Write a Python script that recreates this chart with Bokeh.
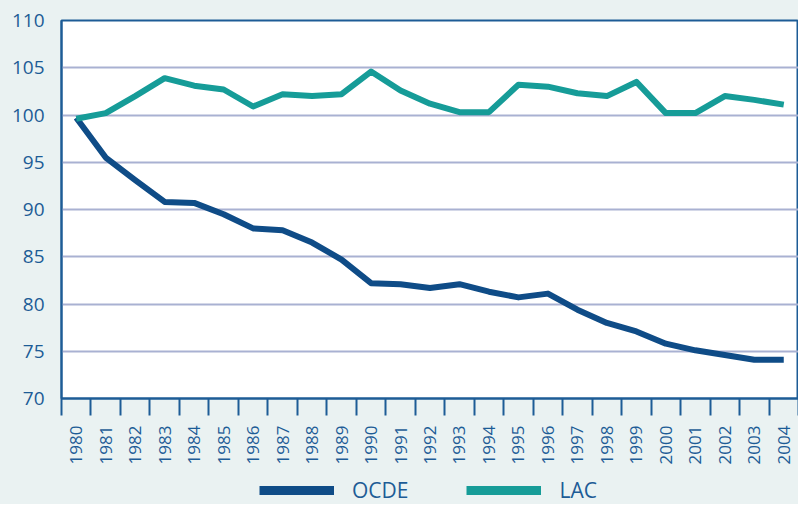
from bokeh.plotting import figure
from bokeh.layouts import column
from bokeh.models import FixedTicker, Legend, LegendItem, Range1d
from bokeh.embed import file_html
from bokeh.resources import INLINE

years = [str(y) for y in range(1980, 2005)]
ocde = [99.7, 95.5, 93.1, 90.8, 90.7, 89.5, 88.0, 87.8, 86.5, 84.7, 82.2, 82.1, 81.7,
        82.1, 81.3, 80.7, 81.1, 79.4, 78.0, 77.1, 75.8, 75.1, 74.6, 74.1, 74.1]
lac = [99.6, 100.2, 102.0, 103.9, 103.1, 102.7, 100.9, 102.2, 102.0, 102.2, 104.6, 102.6,
       101.2, 100.3, 100.3, 103.2, 103.0, 102.3, 102.0, 103.5, 100.2, 100.2, 102.0, 101.6, 101.1]
y_ticks = [70, 75, 80, 85, 90, 95, 100, 105, 110]
series_names = ["OCDE", "LAC"]

C_OCDE = "#0f4c87"
C_LAC = "#169c98"
AXIS = "#1d5c96"
BG = "#eaf2f2"

xs = list(range(len(years)))

p = figure(width=798, height=476, output_backend="svg", toolbar_location=None,
           x_range=Range1d(-0.5, len(years) - 0.5), y_range=Range1d(70, 110),
           background_fill_color="white", border_fill_color=BG,
           min_border_left=61, min_border_top=20, min_border_right=0, min_border_bottom=78)
p.outline_line_color = AXIS
p.outline_line_width = 2

# gridlines
p.xgrid.visible = False
p.ygrid.ticker = FixedTicker(ticks=y_ticks)
p.ygrid.grid_line_color = "#a9b1d2"
p.ygrid.grid_line_width = 2

# y axis
p.yaxis.ticker = FixedTicker(ticks=y_ticks)
p.yaxis.axis_line_color = AXIS
p.yaxis.axis_line_width = 2
p.yaxis.major_tick_line_color = None
p.yaxis.major_tick_out = 0
p.yaxis.minor_tick_line_color = None
p.yaxis.major_label_text_color = AXIS
p.yaxis.major_label_text_font = "Open Sans"
p.yaxis.major_label_text_font_size = "19px"
p.yaxis.major_label_standoff = 17

# x axis
p.xaxis.ticker = FixedTicker(ticks=xs, minor_ticks=[i - 0.5 for i in range(len(years) + 1)])
p.xaxis.major_label_overrides = {i: y for i, y in enumerate(years)}
p.xaxis.axis_line_color = AXIS
p.xaxis.axis_line_width = 2
p.xaxis.major_tick_line_color = None
p.xaxis.major_tick_out = 0
p.xaxis.minor_tick_line_color = AXIS
p.xaxis.minor_tick_line_width = 2
p.xaxis.minor_tick_out = 17
p.xaxis.minor_tick_in = 0
p.xaxis.major_label_orientation = 1.5708
p.xaxis.major_label_text_color = AXIS
p.xaxis.major_label_text_font = "Open Sans"
p.xaxis.major_label_text_font_size = "17px"
p.xaxis.major_label_standoff = 10

p.line(xs, ocde, line_color=C_OCDE, line_width=6, line_join="round")
p.line(xs, lac, line_color=C_LAC, line_width=6, line_join="round")

# legend strip: a second figure whose (off-range) lines only feed the legend swatches
pl = figure(width=798, height=28, output_backend="svg", toolbar_location=None,
            x_range=Range1d(-0.5, len(years) - 0.5), y_range=Range1d(0, 1),
            background_fill_color=BG, border_fill_color=BG,
            min_border_left=61, min_border_right=0, min_border_top=0, min_border_bottom=0,
            x_axis_type=None, y_axis_type=None)
pl.outline_line_color = None
pl.grid.visible = False
r1 = pl.line(xs, ocde, line_color=C_OCDE, line_width=9)
r2 = pl.line(xs, lac, line_color=C_LAC, line_width=9)
legend = Legend(items=[LegendItem(label=series_names[0], renderers=[r1]),
                       LegendItem(label=series_names[1], renderers=[r2])],
                orientation="horizontal", location=(198, 0),
                glyph_width=75, glyph_height=24, label_standoff=18, spacing=58,
                padding=0, margin=0, border_line_color=None, background_fill_alpha=0,
                label_text_font="Open Sans", label_text_font_size="21px",
                label_text_color=AXIS, label_height=24)
pl.add_layout(legend, "center")

layout = column(p, pl, spacing=0, styles={"background-color": BG})
open("out.html", "w").write(file_html(layout, INLINE))
